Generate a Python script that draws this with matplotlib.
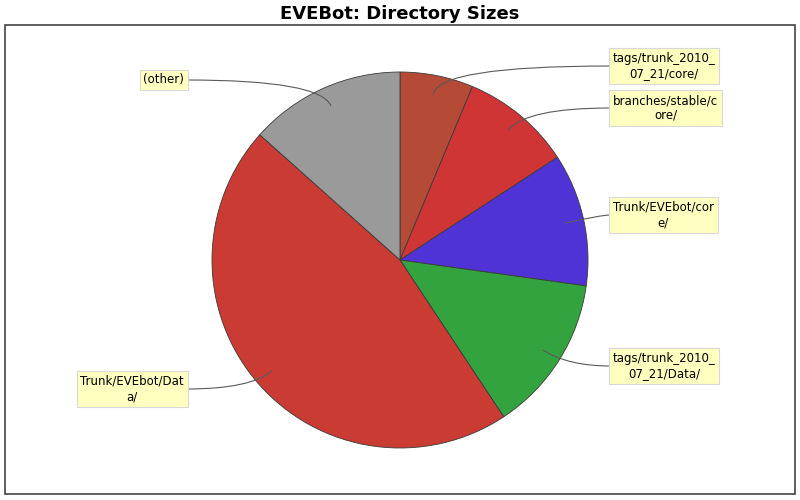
import matplotlib
matplotlib.use("Agg")
import matplotlib.pyplot as plt
from matplotlib.patches import FancyArrowPatch, Rectangle
import numpy as np

# directory shares (percent of total size), clockwise from 12 o'clock
directories = ["tags/trunk_2010_07_21/core/", "branches/stable/core/",
               "Trunk/EVEbot/core/", "tags/trunk_2010_07_21/Data/",
               "Trunk/EVEbot/Data/", "(other)"]
sizes = [6.3, 9.5, 11.4, 13.5, 45.9, 13.4]
# labels as wrapped in the original boxes
box_labels = ["tags/trunk_2010_\n07_21/core/", "branches/stable/c\nore/",
              "Trunk/EVEbot/cor\ne/", "tags/trunk_2010_\n07_21/Data/",
              "Trunk/EVEbot/Dat\na/", "(other)"]
colors = ["#B54A37", "#D03535", "#5033D5", "#33A33F", "#C93B33", "#9A9A9A"]

# label layout (pixel rows from the top of the image)
label_y_px = [66, 108, 215, 366, 389, 80]

W, H = 800, 500
fig = plt.figure(figsize=(8, 5), dpi=100)
ax = fig.add_axes([0, 0, 1, 1])

cx, cy, R = 400, H - 260, 188
wedges, _ = ax.pie(sizes, colors=colors, startangle=90, counterclock=False,
                   center=(cx, cy), radius=R,
                   wedgeprops=dict(edgecolor="#3a3a3a", linewidth=0.6))
ax.set_xlim(0, W)
ax.set_ylim(0, H)
ax.set_aspect("equal")
ax.axis("off")

# plot border
ax.add_patch(Rectangle((5, H - 494), 790, 469, fill=False,
                       edgecolor="#444444", linewidth=1.2))

ax.text(400, H - 14, "EVEBot: Directory Sizes", ha="center", va="center",
        fontsize=13, fontweight="bold")

box = dict(boxstyle="square,pad=0.3", facecolor="#FFFFC0",
           edgecolor="#D8D8D8", linewidth=0.8)

for w, lab, ypx in zip(wedges, box_labels, label_y_px):
    mid = (w.theta1 + w.theta2) / 2
    ax_x = cx + 0.9 * R * np.cos(np.radians(mid))
    ax_y = cy + 0.9 * R * np.sin(np.radians(mid))
    y = H - ypx
    if np.cos(np.radians(mid)) > 0:
        edge = 610
        ax.text(edge + 3, y, lab, ha="left", va="center", fontsize=8.5,
                multialignment="center", linespacing=1.2, bbox=box)
    else:
        edge = 187
        ax.text(edge - 3, y, lab, ha="right", va="center", fontsize=8.5,
                multialignment="center", linespacing=1.2, bbox=box)
    line = FancyArrowPatch((edge, y), (ax_x, ax_y), arrowstyle="-",
                           connectionstyle=f"angle3,angleA=0,angleB={mid}",
                           shrinkA=0, shrinkB=0, color="#5a5a5a", linewidth=0.8)
    ax.add_patch(line)

fig.savefig("out.png", dpi=100)
